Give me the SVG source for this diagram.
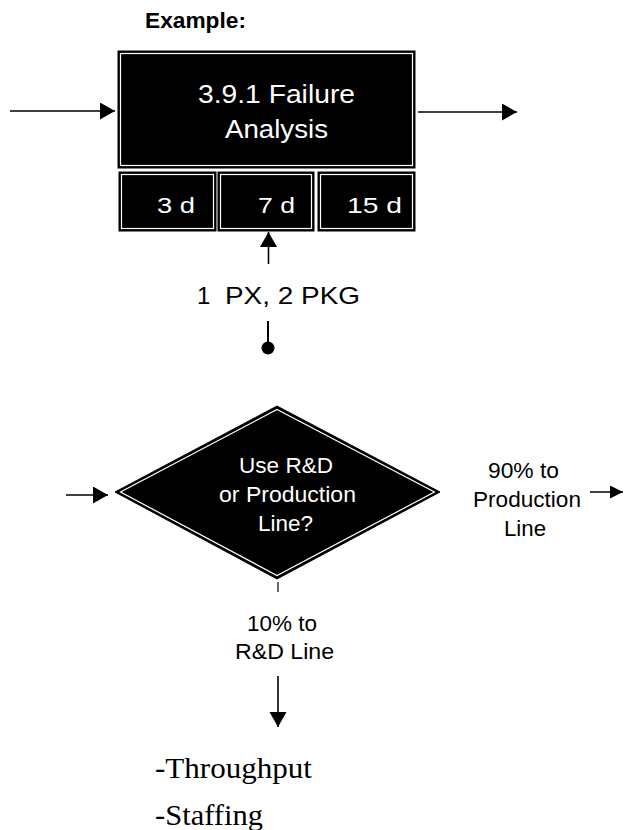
<svg xmlns="http://www.w3.org/2000/svg" width="627" height="830" viewBox="0 0 627 830">
<style>
  .sans { font-family: "Liberation Sans", Arial, sans-serif; }
  .serif { font-family: "Liberation Serif", "Times New Roman", serif; }
  .wt { fill: #ffffff; }
  .bk { fill: #000000; }
  .box { fill: #000000; stroke: #000000; stroke-width: 1; }
  .inner { fill: none; stroke: #ffffff; stroke-width: 1.2; }
  .conn { fill: none; stroke: #000000; stroke-width: 1.6; }
</style>
<defs>
  <marker id="ah" markerUnits="userSpaceOnUse" markerWidth="16" markerHeight="18" refX="15" refY="8.5" orient="auto">
    <path d="M0,0 L15,8.5 L0,17 Z" fill="#000"/>
  </marker>
  <marker id="ahs" markerUnits="userSpaceOnUse" markerWidth="14" markerHeight="14" refX="13" refY="6.5" orient="auto">
    <path d="M0,0 L13,6.5 L0,13 Z" fill="#000"/>
  </marker>
</defs>
<rect width="627" height="830" fill="#ffffff"/>

<text id="title" class="sans bk" x="145" y="28" font-size="21.5" font-weight="bold" textLength="101" lengthAdjust="spacingAndGlyphs">Example:</text>

<g id="node-failure-analysis">
  <rect class="box" x="118" y="51" width="297" height="117"/>
  <rect class="inner" x="120.5" y="53.5" width="292" height="112"/>
  <text class="sans wt" x="198" y="103" font-size="25" textLength="157" lengthAdjust="spacingAndGlyphs">3.9.1 Failure</text>
  <text class="sans wt" x="225" y="138" font-size="25" textLength="103" lengthAdjust="spacingAndGlyphs">Analysis</text>
</g>
<g id="node-3d">
  <rect class="box" x="119" y="172" width="97" height="59"/>
  <rect class="inner" x="121.5" y="174.5" width="92" height="54"/>
  <text class="sans wt" x="157" y="213" font-size="22" textLength="38" lengthAdjust="spacingAndGlyphs">3 d</text>
</g>
<g id="node-7d">
  <rect class="box" x="218" y="172" width="96" height="59"/>
  <rect class="inner" x="220.5" y="174.5" width="91" height="54"/>
  <text class="sans wt" x="258" y="213" font-size="22" textLength="37" lengthAdjust="spacingAndGlyphs">7 d</text>
</g>
<g id="node-15d">
  <rect class="box" x="318" y="172" width="97" height="59"/>
  <rect class="inner" x="320.5" y="174.5" width="92" height="54"/>
  <text class="sans wt" x="347" y="213" font-size="22" textLength="55" lengthAdjust="spacingAndGlyphs">15 d</text>
</g>

<g id="label-resources">
  <text class="sans bk" x="197" y="304" font-size="24">1</text>
  <text class="sans bk" x="225" y="304" font-size="24" textLength="135" lengthAdjust="spacingAndGlyphs">PX, 2 PKG</text>
</g>

<g id="node-decision">
  <polygon points="277,406 440,492 277,579 115,492" fill="#000" stroke="#000" stroke-width="1"/>
  <polygon points="277,409.5 434.5,492 277,575.5 120.5,492" class="inner"/>
  <text class="sans wt" x="239" y="473" font-size="22" textLength="94" lengthAdjust="spacingAndGlyphs">Use R&amp;D</text>
  <text class="sans wt" x="219" y="502" font-size="22" textLength="137" lengthAdjust="spacingAndGlyphs">or Production</text>
  <text class="sans wt" x="258" y="531" font-size="22" textLength="55" lengthAdjust="spacingAndGlyphs">Line?</text>
</g>

<g id="label-production">
  <text class="sans bk" x="488" y="478" font-size="22" textLength="71" lengthAdjust="spacingAndGlyphs">90% to</text>
  <text class="sans bk" x="473" y="507" font-size="22" textLength="108" lengthAdjust="spacingAndGlyphs">Production</text>
  <text class="sans bk" x="504" y="536" font-size="22" textLength="42" lengthAdjust="spacingAndGlyphs">Line</text>
</g>

<g id="label-rd">
  <text class="sans bk" x="247" y="631" font-size="22" textLength="70" lengthAdjust="spacingAndGlyphs">10% to</text>
  <text class="sans bk" x="235" y="659" font-size="22" textLength="99" lengthAdjust="spacingAndGlyphs">R&amp;D Line</text>
</g>

<g id="notes">
  <text class="serif bk" x="155" y="778" font-size="29" textLength="157" lengthAdjust="spacingAndGlyphs">-Throughput</text>
  <text class="serif bk" x="155" y="825" font-size="29" textLength="108" lengthAdjust="spacingAndGlyphs">-Staffing</text>
</g>

<g id="connectors">
  <line class="conn" x1="10" y1="111" x2="115" y2="111" marker-end="url(#ah)"/>
  <line class="conn" x1="418" y1="112" x2="517" y2="112" marker-end="url(#ah)"/>
  <line class="conn" x1="268.5" y1="264" x2="268.5" y2="232" marker-end="url(#ah)"/>
  <line x1="268" y1="321" x2="268" y2="346" stroke="#000" stroke-width="2"/>
  <circle cx="268" cy="348" r="6.5" fill="#000"/>
  <line class="conn" x1="66" y1="495" x2="108" y2="495" marker-end="url(#ah)"/>
  <line class="conn" x1="590" y1="492" x2="623" y2="492" marker-end="url(#ahs)"/>
  <line x1="278" y1="582" x2="278" y2="592" stroke="#000" stroke-width="1.2"/>
  <line class="conn" x1="278" y1="676" x2="278" y2="727" marker-end="url(#ah)"/>
</g>
</svg>
